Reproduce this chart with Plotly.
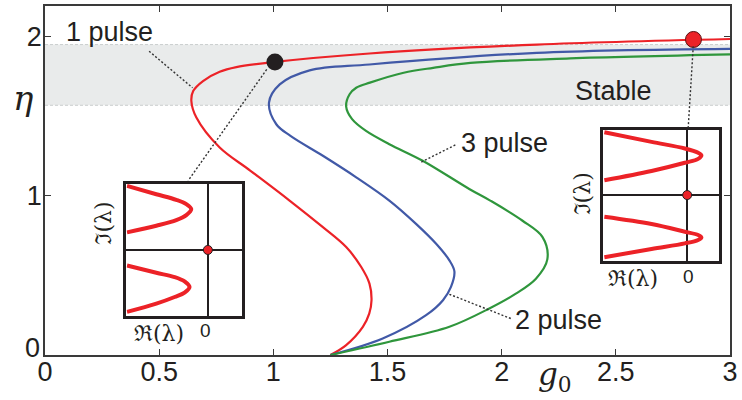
import plotly.graph_objects as go

# ---------------- data ----------------
red_eta = [0.0, 0.0625, 0.177, 0.26, 0.344, 0.448, 0.552, 0.677, 0.802, 0.969, 1.156, 1.302, 1.49, 1.594, 1.656, 1.719, 1.777, 1.806, 1.839, 1.892, 1.948, 1.983]
red_g = [1.25, 1.319, 1.392, 1.42, 1.430, 1.421, 1.385, 1.319, 1.217, 1.071, 0.9, 0.765, 0.663, 0.641, 0.649, 0.692, 0.765, 0.838, 1.007, 1.421, 2.154, 3.0]

blue_eta = [0.0, 0.104, 0.25, 0.344, 0.427, 0.525, 0.594, 0.698, 0.823, 0.969, 1.115, 1.25, 1.375, 1.448, 1.583, 1.698, 1.786, 1.823, 1.896, 1.921]
blue_g = [1.25, 1.479, 1.669, 1.743, 1.778, 1.793, 1.771, 1.713, 1.625, 1.508, 1.363, 1.217, 1.075, 1.013, 0.981, 1.028, 1.159, 1.421, 2.154, 3.0]

green_eta = [0.0, 0.083, 0.177, 0.292, 0.385, 0.479, 0.6, 0.74, 0.844, 0.969, 1.042, 1.219, 1.323, 1.406, 1.48, 1.559, 1.636, 1.677, 1.709, 1.771, 1.802, 1.833, 1.861, 1.886]
green_g = [1.25, 1.508, 1.771, 1.946, 2.062, 2.15, 2.2, 2.179, 2.09, 1.95, 1.858, 1.654, 1.508, 1.406, 1.345, 1.319, 1.334, 1.363, 1.423, 1.571, 1.70, 1.863, 2.3, 3.0]

stable_band = [1.567, 1.948]

black_dot = (1.007, 1.839)
red_dot = (2.84, 1.98)

x_ticks = [0, 0.5, 1, 1.5, 2, 2.5, 3]
x_tick_labels = ["0", "0.5", "1", "1.5", "2", "2.5", "3"]
y_ticks = [0, 1, 2]
y_tick_labels = ["0", "1", "2"]

# inset spectra (Re, Im) in inset units
left_up_re = [-0.993, -0.633, -0.388, -0.265, -0.204, -0.265, -0.388, -0.633, -0.993]
left_up_im = [0.966, 0.841, 0.756, 0.691, 0.616, 0.526, 0.451, 0.366, 0.265]
left_lo_re = [-0.993, -0.633, -0.408, -0.286, -0.225, -0.286, -0.408, -0.633, -0.993]
left_lo_im = [-0.235, -0.344, -0.41, -0.475, -0.56, -0.644, -0.71, -0.81, -0.935]

right_up_re = [-0.988, -0.425, -0.028, 0.131, 0.17, 0.131, -0.028, -0.425, -0.988]
right_up_im = [0.959, 0.812, 0.711, 0.645, 0.605, 0.553, 0.493, 0.367, 0.225]
right_lo_re = [-0.988, -0.425, -0.028, 0.131, 0.17, 0.131, -0.028, -0.425, -0.988]
right_lo_im = [-0.332, -0.443, -0.56, -0.61, -0.647, -0.686, -0.738, -0.823, -0.95]

# leader lines (g, eta) pairs
leaders = [
    ((0.971, 1.792), (0.627, 1.094)),   # black dot -> left inset
    ((2.839, 1.9375), (2.817, 1.427)),  # red dot -> right inset
    ((0.456, 1.906), (0.646, 1.677)),   # 1 pulse
    ((1.797, 1.318), (1.644, 1.208)),   # 3 pulse
    ((1.771, 0.381), (2.04, 0.229)),    # 2 pulse
]

RED = "#ec2227"
BLUE = "#4159a7"
GREEN = "#2f963c"
INK = "#231f20"
SANS = "Liberation Sans, Arial, sans-serif"
SERIF = "DejaVu Serif, Liberation Serif, serif"

fig = go.Figure()

for g, e, c in [(red_g, red_eta, RED), (blue_g, blue_eta, BLUE), (green_g, green_eta, GREEN)]:
    fig.add_trace(go.Scatter(x=g, y=e, mode="lines", line=dict(color=c, width=2.2, shape="spline", smoothing=1.0),
                             hoverinfo="skip", showlegend=False))

fig.add_trace(go.Scatter(x=[black_dot[0]], y=[black_dot[1]], mode="markers",
                         marker=dict(size=17, color=INK), showlegend=False, hoverinfo="skip"))
fig.add_trace(go.Scatter(x=[red_dot[0]], y=[red_dot[1]], mode="markers",
                         marker=dict(size=16, color=RED, line=dict(color="#5a1010", width=1)), showlegend=False, hoverinfo="skip"))

# insets
for re_, im_, xa, ya in [(left_up_re, left_up_im, "x2", "y2"), (left_lo_re, left_lo_im, "x2", "y2"),
                         (right_up_re, right_up_im, "x3", "y3"), (right_lo_re, right_lo_im, "x3", "y3")]:
    fig.add_trace(go.Scatter(x=re_, y=im_, xaxis=xa, yaxis=ya, mode="lines",
                             line=dict(color=RED, width=4, shape="spline", smoothing=1.0),
                             showlegend=False, hoverinfo="skip"))
for xa, ya in [("x2", "y2"), ("x3", "y3")]:
    fig.add_trace(go.Scatter(x=[0], y=[0], xaxis=xa, yaxis=ya, mode="markers",
                             marker=dict(size=9, color=RED, line=dict(color=INK, width=1)),
                             showlegend=False, hoverinfo="skip"))

shapes = [
    dict(type="rect", xref="x domain", yref="y", x0=0, x1=1, y0=stable_band[0], y1=stable_band[1],
         fillcolor="#e9ebeb", line=dict(width=0), layer="below"),
]
for yv in stable_band:
    shapes.append(dict(type="line", xref="x domain", yref="y", x0=0, x1=1, y0=yv, y1=yv,
                       line=dict(color="#c9cdcd", width=1, dash="3px,2px"), layer="below"))
for (a, b) in leaders:
    shapes.append(dict(type="line", xref="x", yref="y", x0=a[0], y0=a[1], x1=b[0], y1=b[1],
                       line=dict(color="#333333", width=1.4, dash="2px,2px")))


def ann(text, x, y, xref, yref, family, size, angle=0, xanchor="center"):
    return dict(text=text, x=x, y=y, xref=xref, yref=yref, showarrow=False, textangle=angle,
                xanchor=xanchor, yanchor="middle", font=dict(family=family, size=size, color=INK))


annotations = [
    ann("1 pulse", 0.284, 2.025, "x", "y", SANS, 27),
    ann("Stable", 2.488, 1.656, "x", "y", SANS, 27),
    ann("3 pulse", 2.011, 1.331, "x", "y", SANS, 27),
    ann("2 pulse", 2.248, 0.219, "x", "y", SANS, 27),
    ann("<i>η</i>", -0.032, 0.735, "paper", "paper", SERIF, 34),
    ann("<i>g</i><sub>0</sub>", 0.745, -0.062, "paper", "paper", SERIF, 31),
    # y-axis "0" label sits a little above the corner, as in the reference
    ann(y_tick_labels[0], -0.004, 0.02, "paper", "paper", SANS, 27, xanchor="right"),
    # left inset labels
    ann("ℑ(λ)", 0.0859, 0.379, "paper", "paper", SERIF, 22, angle=-90),
    ann("ℜ(λ)", 0.2052, 0.0627, "paper", "paper", SERIF, 22, xanchor="right"),
    ann("0", 0.2343, 0.0712, "paper", "paper", SANS, 19),
    # right inset labels
    ann("ℑ(λ)", 0.7846, 0.4615, "paper", "paper", SERIF, 22, angle=-90),
    ann("ℜ(λ)", 0.8981, 0.2194, "paper", "paper", SERIF, 22, xanchor="right"),
    ann("0", 0.9389, 0.225, "paper", "paper", SANS, 19),
]

axis_common = dict(showline=True, linecolor="#3a3a3a", linewidth=1.5, mirror="ticks", ticks="inside",
                   ticklen=6, tickwidth=1.3, tickcolor="#3a3a3a", showgrid=False, zeroline=False,
                   tickfont=dict(family=SANS, size=27, color=INK))

inset_common = dict(showline=True, linecolor=INK, linewidth=2.5, mirror=True, showticklabels=False,
                    ticks="", showgrid=False, zeroline=True, zerolinecolor=INK, zerolinewidth=2)

fig.update_layout(
    width=742, height=400,
    margin=dict(l=45, r=10, t=4, b=45),
    paper_bgcolor="white", plot_bgcolor="white",
    xaxis=dict(range=[0, 3], tickvals=x_ticks, ticktext=x_tick_labels, ticklabelstandoff=-8, **axis_common),
    yaxis=dict(range=[0, 2.19], tickvals=y_ticks, ticktext=[""] + y_tick_labels[1:], ticklabelstandoff=-4, **axis_common),
    xaxis2=dict(domain=[0.1189, 0.2872], range=[-1, 0.416], anchor="y2", **inset_common),
    yaxis2=dict(domain=[0.1111, 0.4909], range=[-1, 1], anchor="x2", **inset_common),
    xaxis3=dict(domain=[0.8151, 0.9836], range=[-1, 0.377], anchor="y3", **inset_common),
    yaxis3=dict(domain=[0.2707, 0.6459], range=[-1, 1], anchor="x3", **inset_common),
    shapes=shapes,
    annotations=annotations,
    showlegend=False,
)

fig.write_html("out.html", config={"displayModeBar": False},
               post_script="document.body.style.margin='0';document.body.style.padding='0';")
